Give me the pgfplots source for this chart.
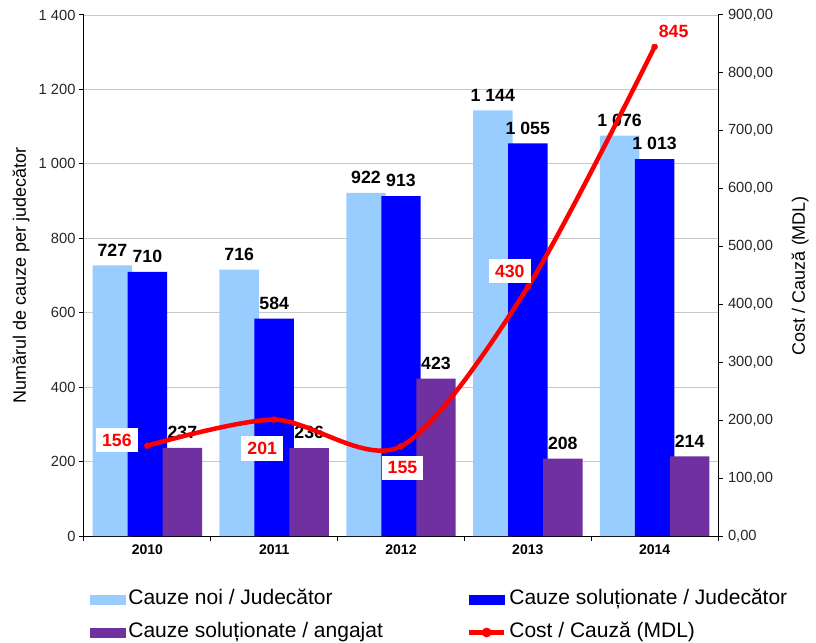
\documentclass[border=0pt]{standalone}
\usepackage{fontspec}
\setmainfont{Liberation Sans}
\usepackage{pgfplots}
\usepackage{pgfplotstable}
\pgfplotsset{compat=1.18}
\definecolor{cnoi}{HTML}{99CCFF}
\definecolor{csol}{HTML}{0000FF}
\definecolor{cang}{HTML}{7030A0}
\definecolor{gridc}{HTML}{C8C8C8}
\definecolor{tickc}{HTML}{262626}

\pgfplotstableread{
x noi sol ang
0 727 710 237
1 716 584 236
2 922 913 423
3 1144 1055 208
4 1076 1013 214
}\bars
\pgfplotstableread{
x cost dx dy
0 156 -30.5 5.7
1 201 -12 -29
2 155 1.5 -21.5
3 430 -18 16
4 845 19 15.5
}\costs

\begin{document}
\begin{tikzpicture}
\pgfplotsset{/pgf/number format/assume math mode=true}
\begin{axis}[
  scale only axis, width=634bp, height=521bp,
  xmin=-0.5, xmax=4.5, ymin=0, ymax=1400,
  clip=false,
  axis x line*=bottom, axis y line*=left,
  axis line style={black, line width=1bp},
  ytick={0,200,...,1400},
  ymajorgrids, grid style={gridc, line width=0.8bp},
  tick align=outside, major tick length=5bp,
  tick style={black, line width=1bp},
  xtick={-0.5,0.5,1.5,2.5,3.5,4.5}, xticklabels={},
  extra x ticks={0,1,2,3,4},
  extra x tick labels={2010,2011,2012,2013,2014},
  extra x tick style={tick style={draw=none}, grid=none},
  x tick label style={font=\fontsize{14bp}{16bp}\selectfont\bfseries, text=black},
  y tick label style={font=\fontsize{14.7bp}{16bp}\selectfont, text=tickc},
  /pgf/number format/1000 sep={\ },
  ylabel={Numărul de cauze per judecător},
  every axis y label/.style={at={([xshift=-63bp]axis description cs:0,0.5)}, rotate=90, anchor=center,
    font=\fontsize{18bp}{20bp}\selectfont},
  ybar, bar width=0.311,
  nodes near coords,
  every node near coord/.append style={anchor=south, inner sep=1bp, yshift=8bp,
    font=\fontsize{17.7bp}{20bp}\selectfont\bfseries, text=black},
]
\addplot[fill=cnoi, draw=none, bar shift=-0.276] table[x=x, y=noi] {\bars};
\addplot[fill=csol, draw=none, bar shift=0] table[x=x, y=sol] {\bars};
\addplot[fill=cang, draw=none, bar shift=0.276] table[x=x, y=ang] {\bars};
\end{axis}

\begin{axis}[
  scale only axis, width=634bp, height=521bp,
  xmin=-0.5, xmax=4.5, ymin=0, ymax=900,
  clip=false,
  axis y line*=right, axis x line=none,
  axis line style={black, line width=1bp},
  ytick={0,100,...,900},
  tick align=outside, major tick length=5bp,
  tick style={black, line width=1bp},
  y tick label style={font=\fontsize{14.7bp}{16bp}\selectfont, text=tickc, xshift=1.5bp,
    /pgf/number format/.cd, fixed, fixed zerofill, precision=2, use comma, 1000 sep={}},
  ylabel={Cost / Cauză (MDL)},
  every axis y label/.style={at={([xshift=82bp]axis description cs:1,0.5)}, rotate=90, anchor=center,
    font=\fontsize{18bp}{20bp}\selectfont},
  legend columns=2,
  legend style={at={(axis description cs:0,0)}, anchor=north west, xshift=6bp, yshift=-53.5bp,
    draw=none, fill=none, inner sep=0pt, outer sep=0pt, row sep=13bp,
    font=\fontsize{21bp}{24bp}\selectfont,
    nodes={inner sep=0pt, text height=15bp, text depth=5bp, anchor=west},
    /tikz/every odd column/.append style={column sep=3bp},
    /tikz/every even column/.append style={column sep=84bp}},
  legend cell align=left,
]
\coordinate (O) at (rel axis cs:0,0);
\addlegendimage{legend image code/.code={\fill[cnoi] (0bp,-4.5bp) rectangle (35bp,4.5bp);}}
\addlegendimage{legend image code/.code={\fill[csol] (0bp,-4.5bp) rectangle (35bp,4.5bp);}}
\addlegendimage{legend image code/.code={\fill[cang] (0bp,-4.5bp) rectangle (35bp,4.5bp);}}
\addplot[red, line width=4.5bp, smooth, mark=*, mark size=3bp,
  mark options={solid, fill=red, line width=0.5bp},
  legend image code/.code={\draw[red, line width=4.5bp] (0bp,0bp) -- (35bp,0bp);
    \fill[red] (17.5bp,0bp) circle (2.5bp);},
  point meta=explicit,
  visualization depends on={\thisrow{dx} \as \dx},
  visualization depends on={\thisrow{dy} \as \dy},
  nodes near coords,
  every node near coord/.style={anchor=center, xshift=\dx bp, yshift=\dy bp,
    fill=white, draw=none, inner xsep=6bp, inner ysep=6bp, text=red,
    font=\fontsize{17.7bp}{20bp}\selectfont\bfseries},
] table[x=x, y=cost, meta=cost] {\costs};
\legend{Cauze noi / Judecător, Cauze soluționate / Judecător, Cauze soluționate / angajat, Cost / Cauză (MDL)}
\end{axis}
\path (O) ++(-84bp,-106bp) rectangle ++(816bp,642bp);
\end{tikzpicture}
\end{document}
